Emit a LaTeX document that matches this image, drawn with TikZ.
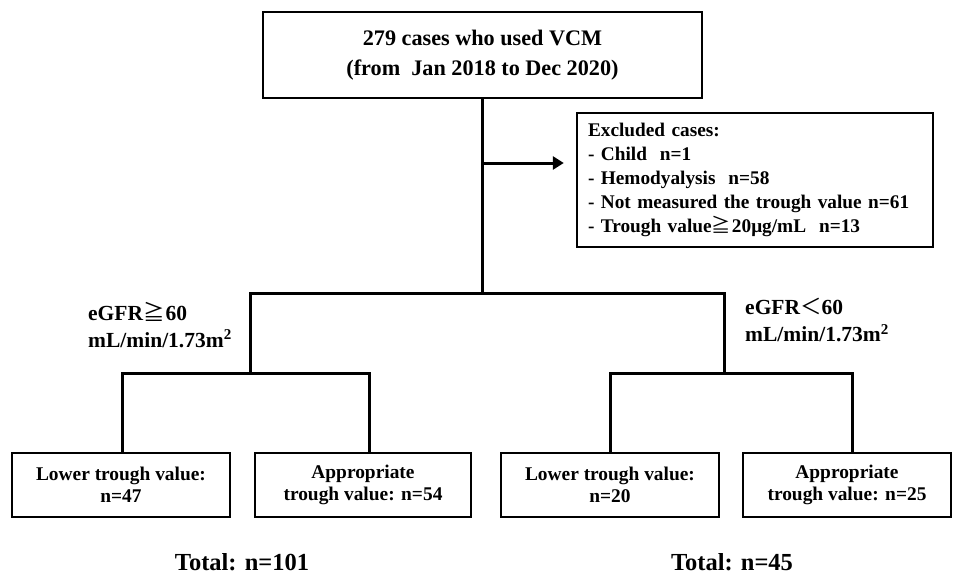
\documentclass[tikz,border=0pt]{standalone}
\usepackage{fontspec}
\setmainfont{Liberation Serif}
\newfontfamily\cjk{Noto Sans CJK JP}
\newcommand{\geqq}{{\cjk\mdseries ≧}\kern1pt}
\newcommand{\fwless}{{\cjk\mdseries ＜}}
\usetikzlibrary{arrows.meta}
\begin{document}
\begin{tikzpicture}[x=1pt,y=-1pt,
  box/.style={draw, line width=2.4pt, inner sep=0pt, align=center,
    font=\bfseries\fontsize{19.4}{22}\selectfont},
  conn/.style={line width=3pt},
  arrowline/.style={line width=3pt, -{Triangle[length=11pt,width=13pt]}},
  lbl/.style={anchor=west, align=left, inner sep=0pt,
    font=\bfseries\fontsize{21.5}{27}\selectfont},
  total/.style={inner sep=0pt, font=\bfseries\fontsize{24.5}{28}\selectfont}]
\useasboundingbox (0,0) rectangle (953,575);
\fill[white] (0,0) rectangle (953,575);

\node[box, minimum width=439pt, minimum height=86pt,
  font=\bfseries\fontsize{22.2}{30}\selectfont] (top) at (482.5,55)
  {279 cases who used VCM\\(from\ \ Jan 2018 to Dec 2020)};

\node[box, minimum width=356pt, minimum height=134pt, inner xsep=11pt,
  text width=334pt, align=left,
  font=\bfseries\fontsize{19.3}{23.8}\selectfont] (excl) at (755,180)
  {Excluded cases:\\
   - Child\ \ n=1\\
   - Hemodyalysis\ \ n=58\\
   - Not measured the trough value n=61\\
   - Trough value\geqq 20μg/mL\ \ n=13};

\node[box, minimum width=218pt, minimum height=64pt] (b1) at (121,485)
  {Lower trough value:\\n=47};
\node[box, minimum width=216pt, minimum height=64pt] (b2) at (363,485)
  {Appropriate\\trough value: n=54};
\node[box, minimum width=218pt, minimum height=64pt] (b3) at (610,485)
  {Lower trough value:\\n=20};
\node[box, minimum width=208pt, minimum height=64pt] (b4) at (847,485)
  {Appropriate\\trough value: n=25};

\node[lbl] (gl) at (88,325) {eGFR\geqq 60\\mL/min/1.73m\textsuperscript{2}};
\node[lbl] (gr) at (745,320) {eGFR\fwless 60\\mL/min/1.73m\textsuperscript{2}};

\node[total] (t1) at (242,562) {Total: n=101};
\node[total] (t2) at (732,562) {Total: n=45};

\coordinate (split) at (482.5,293);
\coordinate (L) at (250,293);
\coordinate (R) at (724,293);
\coordinate (sL) at (250,373);
\coordinate (sR) at (724,373);
\coordinate (d1) at (122,373);
\coordinate (d2) at (369,373);
\coordinate (d3) at (610,373);
\coordinate (d4) at (852,373);
\coordinate (ar) at (482.5,163);

\draw[conn] (top.south) -- (split);
\draw[conn] (sL) -- (L) -- (R) -- (sR);
\draw[conn] (b1.north -| d1) -- (d1) -- (d2) -- (b2.north -| d2);
\draw[conn] (b3.north -| d3) -- (d3) -- (d4) -- (b4.north -| d4);
\draw[arrowline, shorten >=12pt] (ar) -- (ar -| excl.west);
\end{tikzpicture}
\end{document}
